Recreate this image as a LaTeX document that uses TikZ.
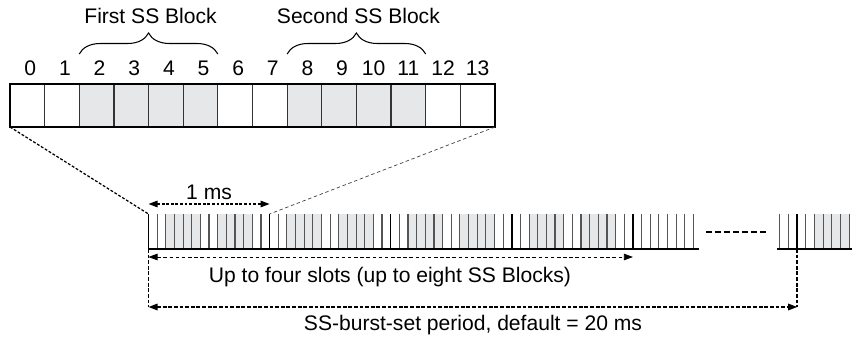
\documentclass[tikz,border=0pt]{standalone}
\usepackage{fontspec}
\setmainfont{Liberation Sans}
\usetikzlibrary{arrows.meta,positioning,calc,decorations.pathreplacing}
\definecolor{ssfill}{HTML}{E6E7E8}
\definecolor{symline}{HTML}{555555}
\tikzset{
  cell/.style={draw=black!80, line width=0.7pt, rectangle, minimum width=0.6928cm, minimum height=0.86cm, inner sep=0pt, outer sep=0pt},
  sscell/.style={cell, fill=ssfill},
  num/.style={font=\fontsize{12}{14}\selectfont, inner sep=0pt},
  lbl/.style={font=\fontsize{12}{14}\selectfont, inner sep=0pt},
  brc/.style={decorate, decoration={brace, amplitude=0.42cm}, line width=0.6pt},
  zoomln/.style={dash pattern=on 1.6pt off 1pt, line width=0.7pt},
  zoomlnr/.style={dash pattern=on 2pt off 1.5pt, line width=0.4pt, black!75},
  tips/.style={{Triangle[length=1.8mm,width=1.3mm]}-{Triangle[length=1.8mm,width=1.3mm]}},
  msarr/.style={tips, dash pattern=on 1.6pt off 1pt, line width=0.7pt},
  slotarr/.style={tips, dash pattern=on 2pt off 1.5pt, line width=0.4pt},
  perln/.style={dash pattern=on 2.2pt off 1pt, line width=0.9pt},
  perarr/.style={perln, tips},
  symln/.style={symline, line width=0.65pt},
  slotln/.style={black, line width=0.9pt},
}
\begin{document}
\begin{tikzpicture}[x=0.02cm, y=-0.02cm]
\useasboundingbox (0,0) rectangle (852,337);

\foreach \i in {0,1,6,7,12,13}
  \node[cell] (c\i) at ({10+34.64*(\i+0.5)},105.5) {};
\foreach \i in {2,3,4,5,8,9,10,11}
  \node[sscell] (c\i) at ({10+34.64*(\i+0.5)},105.5) {};
\draw[line width=1.2pt] (c0.north west) rectangle (c13.south east);
\foreach \i in {0,...,13}
  \node[num, above=0.16cm of c\i, xshift={(\i<10)*1.7pt}] (n\i) {\i};

\coordinate (b1l) at ($(c2.north west)+(0,-30)$);
\coordinate (b1r) at ($(c5.north east)+(0,-30)$);
\coordinate (b2l) at ($(c8.north west)+(0,-30)$);
\coordinate (b2r) at ($(c11.north east)+(0,-30)$);
\draw[brc] (b1l) -- (b1r);
\draw[brc] (b2l) -- (b2r);
\node[lbl, anchor=base] (first) at ($(b1l)!0.5!(b1r)+(2,-30)$) {First SS Block};
\node[lbl, anchor=base] (second) at ($(b2l)!0.5!(b2r)+(2,-30)$) {Second SS Block};

\coordinate (st) at (148.5,214);
\coordinate (sb) at (148.5,249);
\coordinate (slot1) at (269.6,214);
\coordinate (nx) at (797.2,249);

\foreach \k in {0,...,3}
  \foreach \j in {2,8}
    \fill[ssfill] ({148.5+8.65*(14*\k+\j)},214) rectangle ++(34.6,35);
\foreach \j in {1,...,63}
  \draw[symln] ({148.5+8.65*\j},214) -- ++(0,35);
\foreach \k in {0,...,4}
  \draw[slotln] ({148.5+121.1*\k},214) -- ++(0,35);
\draw[line width=1.2pt] (sb) -- (698.5,249);

\fill[ssfill] ({779.9+8.65*4},214) rectangle ++(34.6,35);
\foreach \m in {0,1,3,4,5,6,7,8}
  \draw[symln] ({779.9+8.65*\m},214) -- ++(0,35);
\draw[slotln] (797.2,214) -- (nx);
\draw[line width=1.2pt] (777,249) -- (852,249);
\draw[line width=1pt, dash pattern=on 3.4pt off 1.7pt] (706,232) -- (768,232);

\draw[zoomln] (c0.south west) -- (st);
\draw[zoomlnr] (c13.south east) -- (slot1);

\coordinate (ms0) at (148.5,204);
\coordinate (ms1) at (269.6,204);
\draw[msarr] (ms0) -- (ms1) node[midway, lbl, above=0.08cm] (onems) {1 ms};

\coordinate (f0) at (148.5,257);
\coordinate (f1) at (632.9,257);
\draw[slotarr] (f0) -- (f1);
\node[lbl, anchor=base] (four) at (390,283) {Up to four slots (up to eight SS Blocks)};

\coordinate (p0) at (148.5,307);
\coordinate (p1) at (797.2,307);
\draw[perln] (sb) -- (p0);
\draw[perln] (nx) -- (p1);
\draw[perarr] (p0) -- (p1);
\node[lbl, anchor=base] (period) at (473,331) {SS-burst-set period, default = 20 ms};

\end{tikzpicture}
\end{document}
